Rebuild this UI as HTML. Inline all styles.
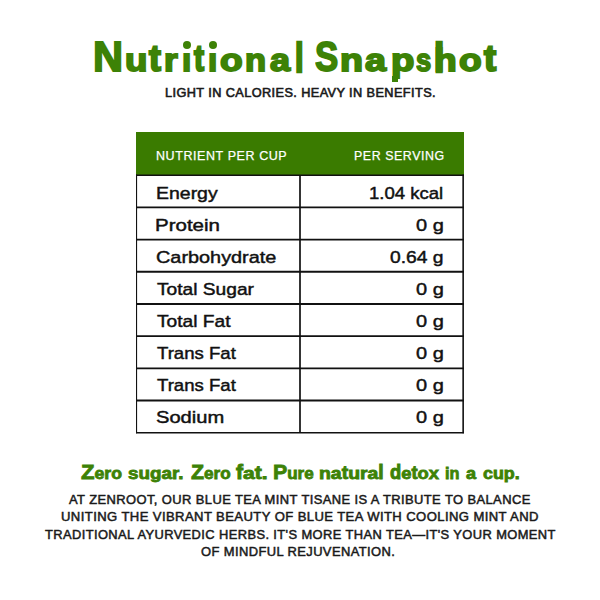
<!DOCTYPE html>
<html><head><meta charset="utf-8">
<style>
html,body{margin:0;padding:0;background:#fff;}
body{width:600px;height:600px;position:relative;overflow:hidden;font-family:"Liberation Sans",sans-serif;}
.t{position:absolute;white-space:nowrap;line-height:1;transform-origin:0 0;}
svg{position:absolute;left:0;top:0;}
</style></head><body>
<svg width="600" height="600" viewBox="0 0 600 600">
<rect x="136" y="132" width="328" height="43" fill="#3a7b00"/>
<g stroke="#111" fill="none">
<line x1="136" y1="175.20" x2="464" y2="175.20" stroke-width="1.6"/>
<line x1="136" y1="207.39" x2="464" y2="207.39" stroke-width="1.9"/>
<line x1="136" y1="239.58" x2="464" y2="239.58" stroke-width="1.9"/>
<line x1="136" y1="271.77" x2="464" y2="271.77" stroke-width="1.9"/>
<line x1="136" y1="303.96" x2="464" y2="303.96" stroke-width="1.9"/>
<line x1="136" y1="336.15" x2="464" y2="336.15" stroke-width="1.9"/>
<line x1="136" y1="368.34" x2="464" y2="368.34" stroke-width="1.9"/>
<line x1="136" y1="400.53" x2="464" y2="400.53" stroke-width="1.9"/>
<line x1="136" y1="432.72" x2="464" y2="432.72" stroke-width="1.45"/>
<line x1="136.55" y1="174.4" x2="136.55" y2="433.3" stroke-width="1.1"/>
<line x1="463.15" y1="174.4" x2="463.15" y2="433.3" stroke-width="1.6"/>
<line x1="300" y1="175" x2="300" y2="433" stroke-width="1.7"/>
</g>
</svg>
<div class="t" id="tg0" style="left:93.27px;top:36.30px;font-size:42.0px;font-weight:bold;color:#3d8206;transform:scaleX(0.9910) scaleY(1.0);transform-origin:0 35.55px;-webkit-text-stroke:1.8px #3d8206;">N</div>
<div class="t" id="tg1" style="left:124.74px;top:45.30px;font-size:31.6px;font-weight:bold;color:#3d8206;transform:scaleX(1.1623) scaleY(1.0);transform-origin:0 26.75px;-webkit-text-stroke:1.8px #3d8206;">u</div>
<div class="t" id="tg2" style="left:149.35px;top:45.42px;font-size:31.6px;font-weight:bold;color:#3d8206;transform:scaleX(1.1311) scaleY(1.15);transform-origin:0 26.75px;-webkit-text-stroke:1.8px #3d8206;">t</div>
<div class="t" id="tg3" style="left:163.95px;top:45.30px;font-size:31.6px;font-weight:bold;color:#3d8206;transform:scaleX(1.1148) scaleY(1.0);transform-origin:0 26.75px;-webkit-text-stroke:1.8px #3d8206;">r</div>
<div class="t" id="tg4" style="left:182.25px;top:45.30px;font-size:31.6px;font-weight:bold;color:#3d8206;transform:scaleX(1.0535) scaleY(1.0);transform-origin:0 26.75px;-webkit-text-stroke:1.8px #3d8206;">ı</div>
<div class="t" id="tg5" style="left:193.97px;top:45.42px;font-size:31.6px;font-weight:bold;color:#3d8206;transform:scaleX(0.9601) scaleY(1.15);transform-origin:0 26.75px;-webkit-text-stroke:1.8px #3d8206;">t</div>
<div class="t" id="tg6" style="left:208.25px;top:45.30px;font-size:31.6px;font-weight:bold;color:#3d8206;transform:scaleX(1.0535) scaleY(1.0);transform-origin:0 26.75px;-webkit-text-stroke:1.8px #3d8206;">ı</div>
<div class="t" id="tg7" style="left:219.53px;top:45.30px;font-size:31.6px;font-weight:bold;color:#3d8206;transform:scaleX(1.1740) scaleY(1.0);transform-origin:0 26.75px;-webkit-text-stroke:1.8px #3d8206;">o</div>
<div class="t" id="tg8" style="left:245.47px;top:45.30px;font-size:31.6px;font-weight:bold;color:#3d8206;transform:scaleX(1.0907) scaleY(1.0);transform-origin:0 26.75px;-webkit-text-stroke:1.8px #3d8206;">n</div>
<div class="t" id="tg9" style="left:269.60px;top:45.30px;font-size:31.6px;font-weight:bold;color:#3d8206;transform:scaleX(1.1424) scaleY(1.0);transform-origin:0 26.75px;-webkit-text-stroke:1.8px #3d8206;">a</div>
<div class="t" id="tg10" style="left:294.69px;top:45.51px;font-size:31.6px;font-weight:bold;color:#3d8206;transform:scaleX(0.9724) scaleY(1.28);transform-origin:0 26.75px;-webkit-text-stroke:1.8px #3d8206;">l</div>
<div class="t" id="tg11" style="left:314.83px;top:36.30px;font-size:42.0px;font-weight:bold;color:#3d8206;transform:scaleX(0.8287) scaleY(1.0);transform-origin:0 35.55px;-webkit-text-stroke:1.8px #3d8206;">S</div>
<div class="t" id="tg12" style="left:340.08px;top:45.30px;font-size:31.6px;font-weight:bold;color:#3d8206;transform:scaleX(1.1940) scaleY(1.0);transform-origin:0 26.75px;-webkit-text-stroke:1.8px #3d8206;">n</div>
<div class="t" id="tg13" style="left:365.11px;top:45.30px;font-size:31.6px;font-weight:bold;color:#3d8206;transform:scaleX(1.1955) scaleY(1.0);transform-origin:0 26.75px;-webkit-text-stroke:1.8px #3d8206;">a</div>
<div class="t" id="tg14" style="left:390.86px;top:45.30px;font-size:31.6px;font-weight:bold;color:#3d8206;transform:scaleX(1.2108) scaleY(1.0);transform-origin:0 26.75px;-webkit-text-stroke:1.8px #3d8206;">p</div>
<div class="t" id="tg15" style="left:416.05px;top:45.30px;font-size:31.6px;font-weight:bold;color:#3d8206;transform:scaleX(0.8666) scaleY(1.0);transform-origin:0 26.75px;-webkit-text-stroke:1.8px #3d8206;">s</div>
<div class="t" id="tg16" style="left:433.91px;top:45.30px;font-size:31.6px;font-weight:bold;color:#3d8206;transform:scaleX(1.1758) scaleY(1.0);transform-origin:0 26.75px;-webkit-text-stroke:1.8px #3d8206;">h</div>
<div class="t" id="tg17" style="left:433.91px;top:45.53px;font-size:31.6px;font-weight:bold;color:#3d8206;transform:scaleX(1.1758) scaleY(1.3);transform-origin:0 26.75px;-webkit-text-stroke:1.8px #3d8206;">l</div>
<div class="t" id="tg18" style="left:458.53px;top:45.30px;font-size:31.6px;font-weight:bold;color:#3d8206;transform:scaleX(1.1740) scaleY(1.0);transform-origin:0 26.75px;-webkit-text-stroke:1.8px #3d8206;">o</div>
<div class="t" id="tg19" style="left:483.57px;top:45.42px;font-size:31.6px;font-weight:bold;color:#3d8206;transform:scaleX(1.1568) scaleY(1.15);transform-origin:0 26.75px;-webkit-text-stroke:1.8px #3d8206;">t</div>
<div class="t" id="sub" style="left:164.99px;top:87.00px;font-size:12.7px;font-weight:normal;color:#1a1a1a;transform:scaleX(1.0036) scaleY(1.0);transform-origin:0 10.75px;-webkit-text-stroke:0.6px #1a1a1a;letter-spacing:0.4px;">LIGHT IN CALORIES. HEAVY IN BENEFITS.</div>
<div class="t" id="h1" style="left:156.10px;top:148.70px;font-size:13.1px;font-weight:normal;color:#fff;transform:scaleX(0.9555) scaleY(1.0);transform-origin:0 11.09px;-webkit-text-stroke:0.25px #fff;letter-spacing:0.6px;">NUTRIENT PER CUP</div>
<div class="t" id="h2" style="left:354.21px;top:148.70px;font-size:13.1px;font-weight:normal;color:#fff;transform:scaleX(0.9463) scaleY(1.0);transform-origin:0 11.09px;-webkit-text-stroke:0.25px #fff;letter-spacing:0.6px;">PER SERVING</div>
<div class="t" id="l0" style="left:155.78px;top:184.91px;font-size:17.2px;font-weight:normal;color:#111;transform:scaleX(1.1324) scaleY(1.0);transform-origin:0 14.56px;-webkit-text-stroke:0.45px #111;">Energy</div>
<div class="t" id="l1" style="left:155.21px;top:216.91px;font-size:17.2px;font-weight:normal;color:#111;transform:scaleX(1.1928) scaleY(1.0);transform-origin:0 14.56px;-webkit-text-stroke:0.45px #111;">Protein</div>
<div class="t" id="l2" style="left:155.84px;top:248.91px;font-size:17.2px;font-weight:normal;color:#111;transform:scaleX(1.1554) scaleY(1.0);transform-origin:0 14.56px;-webkit-text-stroke:0.45px #111;">Carbohydrate</div>
<div class="t" id="l3" style="left:157.08px;top:280.91px;font-size:17.2px;font-weight:normal;color:#111;transform:scaleX(1.1157) scaleY(1.0);transform-origin:0 14.56px;-webkit-text-stroke:0.45px #111;">Total Sugar</div>
<div class="t" id="l4" style="left:157.08px;top:312.91px;font-size:17.2px;font-weight:normal;color:#111;transform:scaleX(1.1150) scaleY(1.0);transform-origin:0 14.56px;-webkit-text-stroke:0.45px #111;">Total Fat</div>
<div class="t" id="l5" style="left:157.08px;top:344.91px;font-size:17.2px;font-weight:normal;color:#111;transform:scaleX(1.0808) scaleY(1.0);transform-origin:0 14.56px;-webkit-text-stroke:0.45px #111;">Trans Fat</div>
<div class="t" id="l6" style="left:157.08px;top:376.91px;font-size:17.2px;font-weight:normal;color:#111;transform:scaleX(1.0808) scaleY(1.0);transform-origin:0 14.56px;-webkit-text-stroke:0.45px #111;">Trans Fat</div>
<div class="t" id="l7" style="left:155.64px;top:408.91px;font-size:17.2px;font-weight:normal;color:#111;transform:scaleX(1.1705) scaleY(1.0);transform-origin:0 14.56px;-webkit-text-stroke:0.45px #111;">Sodium</div>
<div class="t" id="v0" style="left:369.30px;top:184.91px;font-size:17.2px;font-weight:normal;color:#111;transform:scaleX(1.0789) scaleY(1.0);transform-origin:0 14.56px;-webkit-text-stroke:0.45px #111;">1.04 kcal</div>
<div class="t" id="v1" style="left:416.13px;top:216.91px;font-size:17.2px;font-weight:normal;color:#111;transform:scaleX(1.1617) scaleY(1.0);transform-origin:0 14.56px;-webkit-text-stroke:0.45px #111;">0 g</div>
<div class="t" id="v2" style="left:390.25px;top:248.91px;font-size:17.2px;font-weight:normal;color:#111;transform:scaleX(1.1192) scaleY(1.0);transform-origin:0 14.56px;-webkit-text-stroke:0.45px #111;">0.64 g</div>
<div class="t" id="v3" style="left:416.13px;top:280.91px;font-size:17.2px;font-weight:normal;color:#111;transform:scaleX(1.1617) scaleY(1.0);transform-origin:0 14.56px;-webkit-text-stroke:0.45px #111;">0 g</div>
<div class="t" id="v4" style="left:416.13px;top:312.91px;font-size:17.2px;font-weight:normal;color:#111;transform:scaleX(1.1617) scaleY(1.0);transform-origin:0 14.56px;-webkit-text-stroke:0.45px #111;">0 g</div>
<div class="t" id="v5" style="left:416.13px;top:344.91px;font-size:17.2px;font-weight:normal;color:#111;transform:scaleX(1.1617) scaleY(1.0);transform-origin:0 14.56px;-webkit-text-stroke:0.45px #111;">0 g</div>
<div class="t" id="v6" style="left:416.13px;top:376.91px;font-size:17.2px;font-weight:normal;color:#111;transform:scaleX(1.1617) scaleY(1.0);transform-origin:0 14.56px;-webkit-text-stroke:0.45px #111;">0 g</div>
<div class="t" id="v7" style="left:416.13px;top:408.91px;font-size:17.2px;font-weight:normal;color:#111;transform:scaleX(1.1617) scaleY(1.0);transform-origin:0 14.56px;-webkit-text-stroke:0.45px #111;">0 g</div>
<div class="t" id="tw0" style="left:80.54px;top:462.00px;font-size:16.7px;font-weight:bold;color:#3d8206;transform:scaleX(1.0577) scaleY(1.0);transform-origin:0 14.14px;-webkit-text-stroke:0.8px #3d8206;"><span style="font-size:20.9px">Z</span>ero</div>
<div class="t" id="tw1" style="left:128.28px;top:466.00px;font-size:16.7px;font-weight:bold;color:#3d8206;transform:scaleX(1.1280) scaleY(1.0);transform-origin:0 14.14px;-webkit-text-stroke:0.8px #3d8206;">sugar.</div>
<div class="t" id="tw2" style="left:190.54px;top:462.00px;font-size:16.7px;font-weight:bold;color:#3d8206;transform:scaleX(1.0238) scaleY(1.0);transform-origin:0 14.14px;-webkit-text-stroke:0.8px #3d8206;"><span style="font-size:20.9px">Z</span>ero</div>
<div class="t" id="tw3" style="left:236.04px;top:466.00px;font-size:16.7px;font-weight:bold;color:#3d8206;transform:scaleX(1.2632) scaleY(1.0);transform-origin:0 14.14px;-webkit-text-stroke:0.8px #3d8206;"><span style="display:inline-block;transform:scaleY(1.19);transform-origin:50% 14.14px">f</span>a<span style="display:inline-block;transform:scaleY(1.05);transform-origin:50% 14.14px">t</span>.</div>
<div class="t" id="tw4" style="left:272.80px;top:462.00px;font-size:16.7px;font-weight:bold;color:#3d8206;transform:scaleX(1.0204) scaleY(1.0);transform-origin:0 14.14px;-webkit-text-stroke:0.8px #3d8206;"><span style="font-size:20.9px">P</span>ure</div>
<div class="t" id="tw5" style="left:319.19px;top:466.00px;font-size:16.7px;font-weight:bold;color:#3d8206;transform:scaleX(1.1634) scaleY(1.0);transform-origin:0 14.14px;-webkit-text-stroke:0.8px #3d8206;">na<span style="display:inline-block;transform:scaleY(1.05);transform-origin:50% 14.14px">t</span>ura<span style="display:inline-block;transform:scaleY(1.19);transform-origin:50% 14.14px">l</span></div>
<div class="t" id="tw6" style="left:390.44px;top:466.00px;font-size:16.7px;font-weight:bold;color:#3d8206;transform:scaleX(1.0992) scaleY(1.0);transform-origin:0 14.14px;-webkit-text-stroke:0.8px #3d8206;"><span style="display:inline-block;transform:scaleY(1.19);transform-origin:50% 14.14px">d</span>e<span style="display:inline-block;transform:scaleY(1.05);transform-origin:50% 14.14px">t</span>ox</div>
<div class="t" id="tw7" style="left:445.09px;top:466.00px;font-size:16.7px;font-weight:bold;color:#3d8206;transform:scaleX(0.9774) scaleY(1.0);transform-origin:0 14.14px;-webkit-text-stroke:0.8px #3d8206;">in</div>
<div class="t" id="tw8" style="left:466.38px;top:466.00px;font-size:16.7px;font-weight:bold;color:#3d8206;transform:scaleX(1.0848) scaleY(1.0);transform-origin:0 14.14px;-webkit-text-stroke:0.8px #3d8206;">a</div>
<div class="t" id="tw9" style="left:482.87px;top:466.00px;font-size:16.7px;font-weight:bold;color:#3d8206;transform:scaleX(1.0709) scaleY(1.0);transform-origin:0 14.14px;-webkit-text-stroke:0.8px #3d8206;">cup.</div>
<div class="t" id="p0" style="left:69.05px;top:493.61px;font-size:12.8px;font-weight:normal;color:#1a1a1a;transform:scaleX(1.0111) scaleY(1.0);transform-origin:0 10.84px;-webkit-text-stroke:0.5px #1a1a1a;letter-spacing:0.4px;">AT ZENROOT, OUR BLUE TEA MINT TISANE IS A TRIBUTE TO BALANCE</div>
<div class="t" id="p1" style="left:61.07px;top:511.21px;font-size:12.8px;font-weight:normal;color:#1a1a1a;transform:scaleX(1.0213) scaleY(1.0);transform-origin:0 10.84px;-webkit-text-stroke:0.5px #1a1a1a;letter-spacing:0.4px;">UNITING THE VIBRANT BEAUTY OF BLUE TEA WITH COOLING MINT AND</div>
<div class="t" id="p2" style="left:44.62px;top:528.81px;font-size:12.8px;font-weight:normal;color:#1a1a1a;transform:scaleX(1.0068) scaleY(1.0);transform-origin:0 10.84px;-webkit-text-stroke:0.5px #1a1a1a;letter-spacing:0.4px;">TRADITIONAL AYURVEDIC HERBS. IT'S MORE THAN TEA—IT'S YOUR MOMENT</div>
<div class="t" id="p3" style="left:201.32px;top:546.21px;font-size:12.8px;font-weight:normal;color:#1a1a1a;transform:scaleX(1.0097) scaleY(1.0);transform-origin:0 10.84px;-webkit-text-stroke:0.5px #1a1a1a;letter-spacing:0.4px;">OF MINDFUL REJUVENATION.</div>
<div class="x" style="position:absolute;left:183px;top:41px;width:8px;height:8px;border-radius:50%;background:#3d8206"></div>
<div class="x" style="position:absolute;left:208.9px;top:41.1px;width:8px;height:8px;border-radius:50%;background:#3d8206"></div>
<div class="x" style="position:absolute;left:392.3px;top:76px;width:6.2px;height:5.7px;background:#3d8206"></div>
</body></html>
